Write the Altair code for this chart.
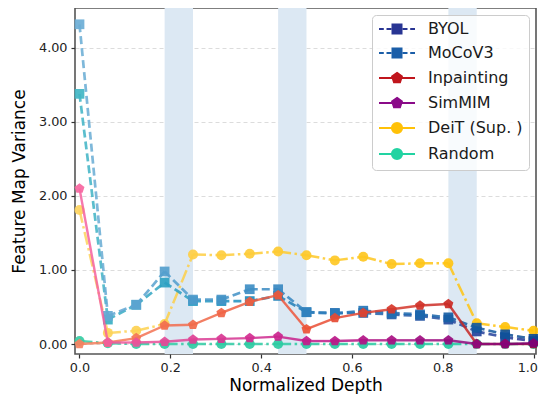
import altair as alt
import pandas as pd

# ---------------- data ----------------
depth = [0.0, 0.0625, 0.125, 0.1875, 0.25, 0.3125, 0.375, 0.4375, 0.5,
         0.5625, 0.625, 0.6875, 0.75, 0.8125, 0.875, 0.9375, 1.0]

byol = [3.38, 0.33, 0.53, 0.83, 0.58, 0.58, 0.58, 0.65, 0.43,
        0.42, 0.42, 0.40, 0.38, 0.33, 0.17, 0.09, 0.04]
mocov3 = [4.32, 0.38, 0.53, 0.98, 0.60, 0.60, 0.74, 0.74, 0.43,
          0.41, 0.45, 0.42, 0.40, 0.36, 0.22, 0.13, 0.07]
inpainting = [0.00, 0.02, 0.08, 0.25, 0.26, 0.42, 0.57, 0.66, 0.20,
              0.35, 0.42, 0.47, 0.52, 0.54, 0.00, 0.00, 0.00]
simmim = [2.10, 0.02, 0.02, 0.03, 0.06, 0.07, 0.08, 0.10, 0.04,
          0.04, 0.05, 0.05, 0.05, 0.05, 0.00, 0.00, 0.01]
deit = [1.81, 0.15, 0.18, 0.27, 1.21, 1.20, 1.22, 1.25, 1.20,
        1.13, 1.18, 1.08, 1.09, 1.09, 0.28, 0.23, 0.18]
random_init = [0.04, 0.01, 0.00, 0.00, 0.00, 0.00, 0.00, 0.00, 0.00,
               0.00, 0.00, 0.00, 0.00, 0.00, 0.00, 0.00, 0.00]

names = ["BYOL", "MoCoV3", "Inpainting", "SimMIM", "DeiT (Sup. )", "Random"]
band_start = [0.1875, 0.4375, 0.8125]
band_end = [0.25, 0.5, 0.875]

# ---------------- styles ----------------
PENT = "M0,-1L0.951,-0.309L0.588,0.809L-0.588,0.809L-0.951,-0.309Z"
series = {
    "BYOL": dict(v=byol, stops=["#41b6c4", "#1d91c0", "#225ea8", "#253494"],
                 dash=[8, 4], width=2.7, shape="square", size=95, order=2),
    "MoCoV3": dict(v=mocov3, stops=["#6baed6", "#4292c6", "#2171b5", "#0b4a92"],
                   dash=[8, 4], width=2.7, shape="square", size=95, order=3),
    "Inpainting": dict(v=inpainting, stops=["#f6815f", "#ec5236", "#b5121b"],
                       dash=None, width=2.4, shape=PENT, size=110, order=4),
    "SimMIM": dict(v=simmim, stops=["#f766a0", "#c51b8a", "#7a0177"],
                   dash=None, width=2.4, shape=PENT, size=110, order=5),
    "DeiT (Sup. )": dict(v=deit, stops=["#fdd460", "#fec92a", "#ffc107"],
                         dash=[13, 3.5, 2.5, 3.5], width=2.5, shape="circle", size=100, order=1),
    "Random": dict(v=random_init, stops=["#35cca4", "#22c9a0"],
                   dash=[13, 3.5, 2.5, 3.5], width=2.5, shape="circle", size=100, order=0),
}
legend_colors = ["#283593", "#1b5ea8", "#c0151c", "#8a0a88", "#ffc107", "#22d3a2"]


def hex2rgb(h):
    h = h.lstrip("#")
    return [int(h[i:i + 2], 16) for i in (0, 2, 4)]


def interp(stops, t):
    n = len(stops) - 1
    pos = t * n
    i = min(int(pos), n - 1)
    f = pos - i
    a, b = hex2rgb(stops[i]), hex2rgb(stops[i + 1])
    c = [round(a[k] + (b[k] - a[k]) * f) for k in range(3)]
    return "#%02x%02x%02x" % tuple(c)


# legend symbols: line + marker (custom paths, scaled by sqrt(size)/2)
DASHED = "M-3,0H-2.2M-1.75,0H-0.95M0.95,0H1.75M2.2,0H3"
SOLID = "M-3,0H3"
sq = "M-0.75,-0.75H0.75V0.75H-0.75Z"
pent = "M0,-0.85L0.808,-0.263L0.5,0.688L-0.5,0.688L-0.808,-0.263Z"
circ = "M-0.85,0A0.85,0.85 0 1,0 0.85,0A0.85,0.85 0 1,0 -0.85,0Z"
legend_paths = [DASHED + sq, DASHED + sq, SOLID + pent, SOLID + pent,
                SOLID + circ, SOLID + circ]

# ---------------- scales / axes ----------------
xs = alt.Scale(domain=[-0.0099, 1.0055], nice=False, zero=False)
ys = alt.Scale(domain=[-0.135, 4.54], nice=False, zero=False)
xaxis = alt.Axis(
    values=[0.0, 0.2, 0.4, 0.6, 0.8, 1.0], format=".1f",
    title="Normalized Depth", grid=False, labelPadding=3,
    labelAlign={"condition": {"test": "datum.value >= 1", "value": "right"}, "value": "center"},
    labelOffset={"condition": {"test": "datum.value >= 1", "value": 4}, "value": 0},
    titleY=36, titleBaseline="alphabetic",
)
yaxis = alt.Axis(values=[0, 1, 2, 3, 4], format=".2f",
                 title="Feature Map Variance", grid=True)


def X(f):
    return alt.X(f, type="quantitative", scale=xs, axis=xaxis)


def Y(f):
    return alt.Y(f, type="quantitative", scale=ys, axis=yaxis)


layers = []
bands = pd.DataFrame({"s": band_start, "e": band_end})
layers.append(
    alt.Chart(bands).mark_rect(color="#dce8f3").encode(x=X("s"), x2="e")
)

n = len(depth)
for name in sorted(series, key=lambda k: series[k]["order"]):
    s = series[name]
    v = s["v"]
    seg = pd.DataFrame({
        "x": depth[:-1], "x2": depth[1:], "y": v[:-1], "y2": v[1:],
        "c": [interp(s["stops"], (i + 0.5) / (n - 1)) for i in range(n - 1)],
    })
    pts = pd.DataFrame({
        "x": depth, "y": v,
        "c": [interp(s["stops"], i / (n - 1)) for i in range(n)],
    })
    rule_kw = dict(strokeWidth=s["width"], opacity=0.85, strokeCap="butt")
    if s["dash"]:
        rule_kw["strokeDash"] = s["dash"]
    layers.append(
        alt.Chart(seg).mark_rule(**rule_kw).encode(
            x=X("x"), y=Y("y"), x2="x2", y2="y2",
            color=alt.Color("c:N", scale=None),
        )
    )
    layers.append(
        alt.Chart(pts).mark_point(filled=True, shape=s["shape"], size=s["size"],
                                  opacity=0.92).encode(
            x=X("x"), y=Y("y"),
            color=alt.Color("c:N", scale=None),
        )
    )

leg = alt.Legend(title=None, orient="top-right", offset=7,
                 labelFontSize=16, labelColor="#1a1a1a", labelFont="DejaVu Sans",
                 symbolSize=144, symbolStrokeWidth=2,
                 symbolOffset=11, labelOffset=23, rowPadding=6,
                 padding=6, strokeColor="#cccccc", fillColor="rgba(255,255,255,0.8)",
                 cornerRadius=4)
legend_df = pd.DataFrame({"name": names})
layers.append(
    alt.Chart(legend_df).mark_point(filled=True, opacity=1).encode(
        fill=alt.Fill("name:N", scale=alt.Scale(domain=names, range=legend_colors), legend=leg),
        stroke=alt.Stroke("name:N", scale=alt.Scale(domain=names, range=legend_colors), legend=leg),
        shape=alt.Shape("name:N", scale=alt.Scale(domain=names, range=legend_paths), legend=leg),
    ).transform_filter("false")
)

chart = alt.layer(*layers).properties(
    width=461, height=346,
    autosize=alt.AutoSizeParams(type="none"),
    padding={"left": 67, "top": 0, "right": 2, "bottom": 40},
).configure(
    font="DejaVu Sans",
).configure_view(
    stroke="#555555", strokeWidth=1.6,
).configure_axis(
    domain=False, tickColor="#333333", tickSize=4, tickWidth=1.2,
    labelFontSize=12.8, labelColor="#222222", labelPadding=4,
    titleFontSize=17, titleFontWeight="normal", titleColor="#000000",
    gridColor="#dcdcdc", gridDash=[4, 3], gridWidth=1,
).configure_axisY(
    titlePadding=10,
)

chart.save("out.html", embed_options={"renderer": "svg", "actions": False})
